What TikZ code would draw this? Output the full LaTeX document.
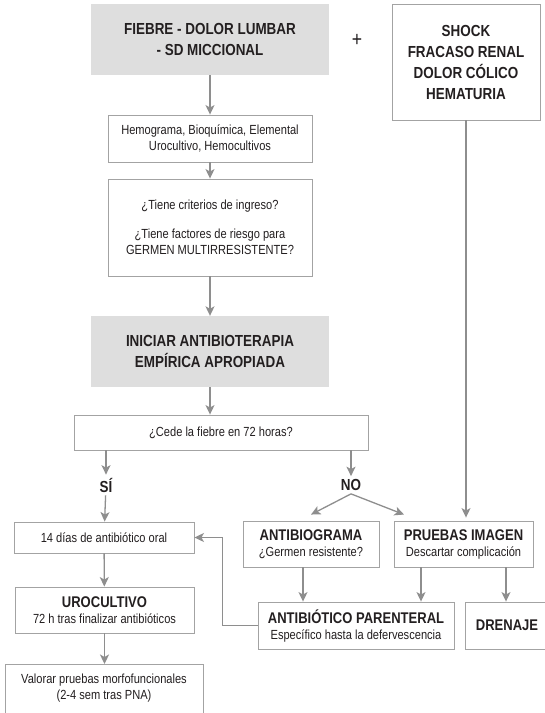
\documentclass[tikz,border=0pt]{standalone}
\usepackage{fontspec}
\setmainfont{Liberation Sans}[FakeStretch=0.84]
\usetikzlibrary{arrows.meta}
\definecolor{ink}{HTML}{231F20}
\definecolor{linegray}{HTML}{8E8E8E}
\definecolor{framegray}{HTML}{A3A3A3}
\definecolor{fillgray}{HTML}{DEDEDE}
\newcommand{\headfont}{\fontsize{16}{21}\selectfont\bfseries}
\newcommand{\subhead}{\fontsize{15.5}{17}\selectfont\bfseries}
\newcommand{\bodyfont}{\fontsize{13.2}{16}\selectfont}
\begin{document}
\begin{tikzpicture}[x=1pt,y=-1pt,
  frame/.style={draw=framegray, line width=0.9pt, inner sep=0pt, align=center, text=ink},
  shaded/.style={fill=fillgray, inner sep=0pt, align=center, text=ink},
  label/.style={text=ink, font=\headfont, inner sep=3pt},
  link/.style={draw=linegray, line width=1.3pt, -{Stealth[length=9.5pt,width=9pt,inset=2.5pt]}},
]
\useasboundingbox[fill=white] (0,0) rectangle (545,713);

% boxes of the main column
\node[shaded, minimum width=238pt, minimum height=71pt, font=\headfont] (fever) at (210,39.5)
  {FIEBRE - DOLOR LUMBAR\\- SD MICCIONAL};
\node[text=ink, font=\fontsize{21}{21}\selectfont, inner sep=0pt] (plus) at (357,40) {+};
\node[frame, minimum width=148pt, minimum height=116pt, font=\headfont] (shock) at (466,62)
  {SHOCK\\FRACASO RENAL\\DOLOR CÓLICO\\HEMATURIA};
\node[frame, minimum width=204pt, minimum height=47pt, font=\bodyfont] (labs) at (210,138.5)
  {Hemograma, Bioquímica, Elemental\\Urocultivo, Hemocultivos};
\node[frame, minimum width=204pt, minimum height=97pt, font=\bodyfont] (ask) at (210,227.5)
  {¿Tiene criterios de ingreso?\\[13pt]¿Tiene factores de riesgo para\\GERMEN MULTIRRESISTENTE?};
\node[shaded, minimum width=238pt, minimum height=71pt, font=\headfont] (start) at (210,351.5)
  {INICIAR ANTIBIOTERAPIA\\EMPÍRICA APROPIADA};
\node[frame, minimum width=294pt, minimum height=35pt, font=\bodyfont] (cede) at (221,432.5)
  {¿Cede la fiebre en 72 horas?};
\node[label] (si) at (106,485) {SÍ};
\node[label] (no) at (351,485) {NO};

% left branch
\node[frame, minimum width=180pt, minimum height=31pt, font=\bodyfont] (oral) at (104,537.5)
  {14 días de antibiótico oral};
\node[frame, minimum width=179pt, minimum height=46pt, font=\bodyfont] (uro) at (104.5,610)
  {{\subhead UROCULTIVO}\\72 h tras finalizar antibióticos};
\node[font=\bodyfont, text=ink, align=center, inner sep=0pt] (val) at (104,688)
  {Valorar pruebas morfofuncionales\\(2-4 sem tras PNA)};
\draw[draw=framegray, line width=0.9pt] (5,664) rectangle (203,740);
\coordinate (valtop) at (104,664);

% right branch
\node[frame, minimum width=136pt, minimum height=46pt, font=\bodyfont] (abg) at (311,544)
  {{\subhead ANTIBIOGRAMA}\\¿Germen resistente?};
\node[frame, minimum width=139pt, minimum height=46pt, font=\bodyfont] (img) at (463.5,544)
  {{\subhead PRUEBAS IMAGEN}\\Descartar complicación};
\node[frame, minimum width=196pt, minimum height=47pt, font=\bodyfont] (par) at (356,625.5)
  {{\subhead ANTIBIÓTICO PARENTERAL}\\Específico hasta la defervescencia};
\node[frame, minimum width=96pt, minimum height=47pt, font=\subhead, text width=84pt] (drain) at (513,625.5)
  {\hspace*{-12pt}DRENAJE};

% connectors
\draw[link] (fever) -- (labs);
\draw[link] (labs) -- (ask);
\draw[link] (ask) -- (start);
\draw[link] (start.south) -- (start.south |- cede.north);
\draw[link] (cede.south -| si) -- (si.north);
\draw[link] (cede.south -| no) -- (no.north);
\draw[link] (si) -- (oral);
\draw[link] (oral) -- (uro);
\draw[link] (uro.south) -- (uro.south |- valtop);
\draw[link] (no.south) -- ([yshift=6pt]abg.north);
\draw[link] (no.south) -- ([xshift=-59.5pt,yshift=6pt]img.north);
\draw[link, shorten >=3pt] (shock.south) -- (shock.south |- img.north);
\draw[link] ([xshift=-8pt]abg.south) -- ([xshift=-8pt]abg.south |- par.north);
\draw[link] ([xshift=-42.5pt]img.south) -- ([xshift=-42.5pt]img.south |- par.north);
\draw[link] ([xshift=42.5pt]img.south) -- ([xshift=42.5pt]img.south |- drain.north);
\draw[link] (par.west) -- ++(-35,0) |- (oral.east);
\end{tikzpicture}
\end{document}
